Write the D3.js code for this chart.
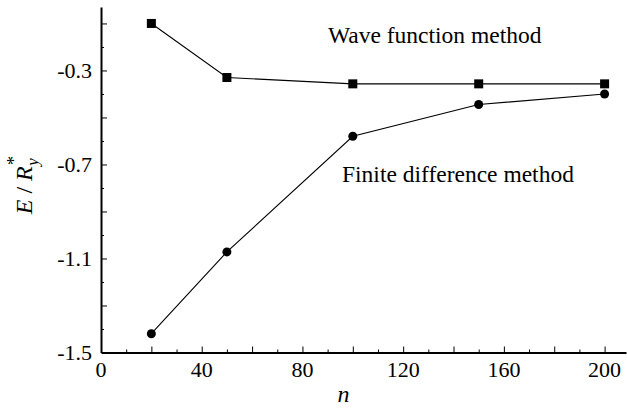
<!DOCTYPE html>
<html>
<head>
<meta charset="utf-8">
<script src="https://cdn.jsdelivr.net/npm/d3@7"></script>
<style>
  body { margin: 0; background: #fff; }
</style>
</head>
<body>
<script>
// data
const nValues = [20, 50, 100, 150, 200];
const waveFunction = [-0.10, -0.33, -0.357, -0.357, -0.357];
const finiteDifference = [-1.42, -1.072, -0.58, -0.445, -0.40];
const xTickLabels = [0, 40, 80, 120, 160, 200];
const yTickLabels = [-1.5, -1.1, -0.7, -0.3];

const width = 627;
const height = 409;
const serif = "Liberation Serif";

const x = d3.scaleLinear().domain([0, 208.5]).range([101, 626]);
const y = d3.scaleLinear().domain([-1.5, -0.03]).range([352.5, 7]);

const svg = d3.select("body").append("svg")
    .attr("width", width)
    .attr("height", height);

// x axis: minor every 10, major every 20, labels every 40
const xAxis = svg.append("g").attr("transform", `translate(0, ${y(-1.5)})`);
xAxis.call(d3.axisBottom(x).tickValues(d3.range(10, 201, 10))
    .tickSizeInner(0).tickSizeOuter(0).tickFormat(""));
xAxis.selectAll(".tick line")
    .attr("y2", d => d % 20 === 0 ? -6 : -3);
xAxis.select(".domain").attr("stroke-width", 2);
xAxis.selectAll(".label").data(xTickLabels).enter().append("text")
    .attr("x", d => x(d))
    .attr("y", 24.5)
    .attr("text-anchor", "middle")
    .attr("fill", "#000")
    .attr("font-family", serif)
    .attr("font-size", 22)
    .text(d => d);

// y axis: minor every 0.1, major every 0.2, labels every 0.4
const yTicks = d3.range(-14, 0).map(d => d / 10);
const yAxis = svg.append("g").attr("transform", `translate(${x(0)}, 0)`);
yAxis.call(d3.axisLeft(y).tickValues(yTicks)
    .tickSizeInner(0).tickSizeOuter(0).tickFormat(""));
yAxis.selectAll(".tick line")
    .attr("x2", d => Math.round(d * 10) % 2 !== 0 ? 6 : 3);
yAxis.select(".domain").attr("stroke-width", 2);
yAxis.selectAll(".label").data(yTickLabels).enter().append("text")
    .attr("x", -9)
    .attr("y", d => y(d))
    .attr("dy", "0.35em")
    .attr("text-anchor", "end")
    .attr("fill", "#000")
    .attr("font-family", serif)
    .attr("font-size", 22)
    .text(d => d.toFixed(1));

// axis titles
svg.append("text")
    .attr("x", 343.5)
    .attr("y", 402)
    .attr("text-anchor", "middle")
    .attr("font-family", serif)
    .attr("font-size", 24)
    .attr("font-style", "italic")
    .text("n");

const yTitle = svg.append("text")
    .attr("transform", "translate(32, 185) rotate(-90)")
    .attr("text-anchor", "middle")
    .attr("font-family", serif)
    .attr("font-size", 24);
yTitle.append("tspan").attr("font-style", "italic").text("E");
yTitle.append("tspan").text(" / ");
yTitle.append("tspan").attr("font-style", "italic").text("R");
yTitle.append("tspan").attr("dy", -12).attr("dx", 1).attr("font-size", 19).text("*");
yTitle.append("tspan").attr("dy", 18).attr("dx", -10).attr("font-size", 17).attr("font-style", "italic").text("y");

// series
const line = d3.line().x(d => x(d[0])).y(d => y(d[1]));
const wave = nValues.map((n, i) => [n, waveFunction[i]]);
const fd = nValues.map((n, i) => [n, finiteDifference[i]]);

svg.append("path").datum(wave).attr("d", line)
    .attr("fill", "none").attr("stroke", "#000").attr("stroke-width", 1.1);
svg.append("path").datum(fd).attr("d", line)
    .attr("fill", "none").attr("stroke", "#000").attr("stroke-width", 1.1);

svg.selectAll(".sq").data(wave).enter().append("rect")
    .attr("x", d => x(d[0]) - 4.5)
    .attr("y", d => y(d[1]) - 4.5)
    .attr("width", 9)
    .attr("height", 9)
    .attr("fill", "#000");

svg.selectAll(".dot").data(fd).enter().append("circle")
    .attr("cx", d => x(d[0]))
    .attr("cy", d => y(d[1]))
    .attr("r", 4.5)
    .attr("fill", "#000");

// annotations
svg.append("text")
    .attr("x", 328)
    .attr("y", 43)
    .attr("font-family", serif)
    .attr("font-size", 23.5)
    .text("Wave function method");

svg.append("text")
    .attr("x", 342)
    .attr("y", 182)
    .attr("font-family", serif)
    .attr("font-size", 23.5)
    .text("Finite difference method");
</script>
</body>
</html>
